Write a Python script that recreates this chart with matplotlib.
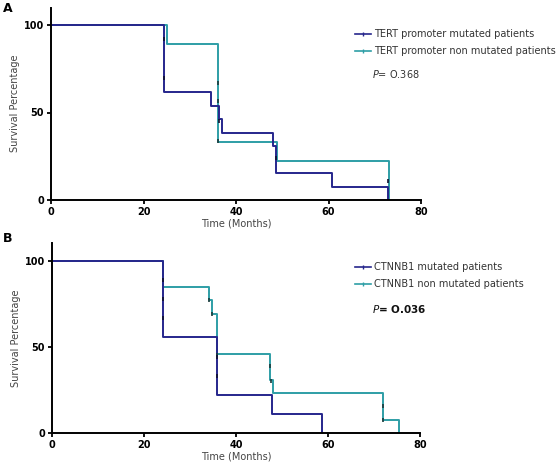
import matplotlib.pyplot as plt
from matplotlib.lines import Line2D

# Kaplan-Meier step data (time in months, survival %)
tert_mut_t = [0, 24.5, 34.6, 36.4, 37.0, 48.1, 48.7, 60.7, 72.8]
tert_mut_s = [100, 61.5, 53.8, 46.2, 38.5, 30.8, 15.4, 7.7, 0]
tert_non_t = [0, 25.0, 36.2, 48.9, 73.1]
tert_non_s = [100, 88.9, 33.3, 22.2, 0]

ctnnb1_mut_t = [0, 24.2, 35.8, 47.9, 58.8]
ctnnb1_mut_s = [100, 55.6, 22.2, 11.1, 0]
ctnnb1_non_t = [0, 24.2, 34.2, 34.7, 35.8, 47.4, 48.1, 71.9, 75.4]
ctnnb1_non_s = [100, 84.6, 76.9, 69.2, 46.2, 30.8, 23.1, 7.7, 0]

# small tick marks seen on the curves
tert_mut_cens_t = [24.5, 24.5, 36.4, 48.7, 72.8]
tert_mut_cens_s = [92, 70, 45, 24, 11]
tert_non_cens_t = [36.0, 36.1, 36.2]
tert_non_cens_s = [66.7, 56.5, 34]
ctnnb1_mut_cens_t = [24.2, 24.2, 24.2, 35.8, 35.8]
ctnnb1_mut_cens_s = [89, 78, 66.5, 44, 33]
ctnnb1_non_cens_t = [34.2, 34.7, 35.8, 47.4, 47.6, 71.9, 72.0]
ctnnb1_non_cens_s = [77, 69, 45.5, 39, 30.5, 16, 7.5]

navy = '#26268c'
teal = '#2e9ea6'

fig = plt.figure(figsize=(5.6, 4.71), dpi=100)
ax_a = fig.add_axes([51 / 560, 271 / 471, 370 / 560, 192.5 / 471])
ax_b = fig.add_axes([52 / 560, 37.7 / 471, 368 / 560, 190 / 471])

panels = [
    (ax_a, 29, tert_mut_t, tert_mut_s, tert_non_t, tert_non_s,
     tert_mut_cens_t, tert_mut_cens_s, tert_non_cens_t, tert_non_cens_s,
     ['TERT promoter mutated patients', 'TERT promoter non mutated patients']),
    (ax_b, 262, ctnnb1_mut_t, ctnnb1_mut_s, ctnnb1_non_t, ctnnb1_non_s,
     ctnnb1_mut_cens_t, ctnnb1_mut_cens_s, ctnnb1_non_cens_t, ctnnb1_non_cens_s,
     ['CTNNB1 mutated patients', 'CTNNB1 non mutated patients']),
]

for (ax, leg_top, mt, ms, nt, ns, mct, mcs, nct, ncs, labels) in panels:
    ax.step(nt, ns, where='post', color=teal, lw=1.4)
    ax.step(mt, ms, where='post', color=navy, lw=1.4)
    ax.plot(nct, ncs, ls='none', marker='|', ms=3, mew=1.2, color='#1a3a3a')
    ax.plot(mct, mcs, ls='none', marker='|', ms=3, mew=1.2, color='#101030')

    ax.set_xlim(0, 80)
    ax.set_ylim(0, 110)
    ax.set_xticks([0, 20, 40, 60, 80])
    ax.set_yticks([0, 50, 100])
    for lab in ax.get_xticklabels() + ax.get_yticklabels():
        lab.set_fontweight('bold')
    ax.tick_params(labelsize=7, width=1.3, length=3, pad=2)
    ax.spines['top'].set_visible(False)
    ax.spines['right'].set_visible(False)
    ax.spines['left'].set_linewidth(1.4)
    ax.spines['bottom'].set_linewidth(1.4)
    ax.set_xlabel('Time (Months)', fontsize=7, color='#444444', labelpad=1)
    ax.set_ylabel('Survival Percentage', fontsize=7, color='#444444', labelpad=3)

    handles = [Line2D([], [], color=navy, lw=1.2, marker='|', ms=3),
               Line2D([], [], color=teal, lw=1.2, marker='|', ms=3)]
    fig.legend(handles, labels, fontsize=7, frameon=False, handlelength=1.6,
               handletextpad=0.4, labelspacing=0.75, loc='upper left',
               bbox_to_anchor=(355 / 560, 1 - leg_top / 471), borderaxespad=0,
               borderpad=0, labelcolor='#333333')

fig.text(3 / 560, 1 - 8 / 471, 'A', fontsize=9, fontweight='bold', va='center')
fig.text(3 / 560, 1 - 239 / 471, 'B', fontsize=9, fontweight='bold', va='center')
fig.text(372 / 560, 1 - 74 / 471, '$P$= O.368', fontsize=7, color='#333333', va='center')
fig.text(372 / 560, 1 - 309 / 471, '$P$= O.036', fontsize=7.5, color='#111111',
         va='center', fontweight='bold')

plt.savefig('out.png', dpi=100)
